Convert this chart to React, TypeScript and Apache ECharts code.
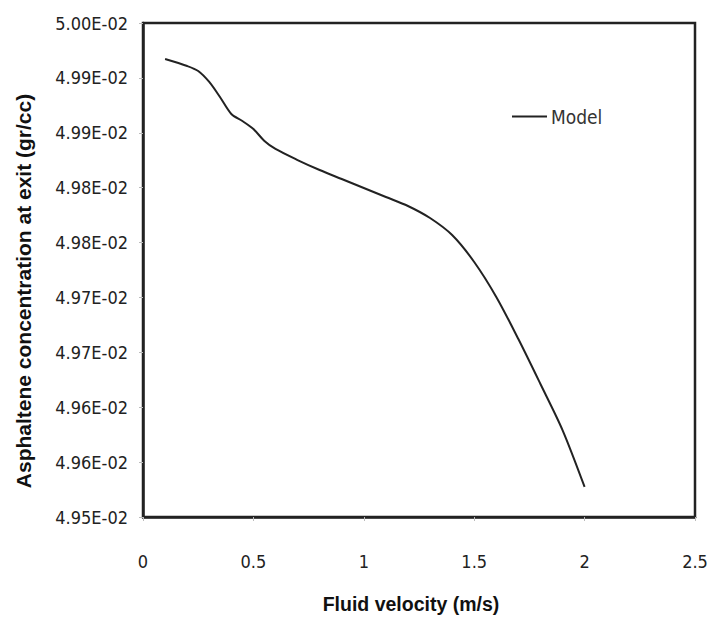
import React, { useEffect, useRef } from "react";
import * as echarts from "echarts";

const velocity = [0.1, 0.2, 0.25, 0.3, 0.35, 0.4, 0.45, 0.5, 0.55, 0.6, 0.7, 0.8, 0.9, 1.0, 1.1, 1.2, 1.3, 1.4, 1.5, 1.6, 1.7, 1.8, 1.9, 2.0];
const concentration = [
  0.0499636, 0.0499565, 0.0499514, 0.0499403, 0.0499246, 0.0499079, 0.0499008, 0.0498927,
  0.0498806, 0.0498725, 0.0498613, 0.0498512, 0.0498421, 0.049833, 0.0498239, 0.0498148,
  0.0498026, 0.0497854, 0.0497581, 0.0497227, 0.0496801, 0.0496346, 0.049588, 0.0495304,
];
const yMin = 0.0495;
const yMax = 0.05;
const ySteps = 9;
const xTicks = [0, 0.5, 1, 1.5, 2, 2.5];
const seriesName = "Model";
const xTitle = "Fluid velocity (m/s)";
const yTitle = "Asphaltene concentration at exit (gr/cc)";

const fmtSci = (v: number) => {
  const [m, e] = (v + 1e-12).toExponential(2).split("e");
  const n = parseInt(e, 10);
  const sign = n < 0 ? "-" : "+";
  const abs = Math.abs(n);
  return `${m}E${sign}${abs < 10 ? "0" + abs : abs}`;
};

const narrow = "'DejaVu Sans Condensed', 'Liberation Sans Narrow', 'Arial Narrow', sans-serif";
const bold = "'Liberation Sans', Arial, sans-serif";

export default function App() {
  const ref = useRef<HTMLDivElement>(null);
  useEffect(() => {
    if (!ref.current) return;
    const chart = echarts.init(ref.current, undefined, { renderer: "svg" });
    chart.setOption({
      animation: false,
      backgroundColor: "#ffffff",
      grid: {
        left: 143,
        right: 17,
        top: 23,
        bottom: 102,
        show: true,
        borderColor: "#222",
        borderWidth: 2.5,
      },
      legend: {
        data: [seriesName],
        left: 512,
        top: 107,
        padding: 0,
        icon: "rect",
        itemWidth: 35,
        itemHeight: 2,
        itemGap: 3,
        textStyle: { fontFamily: narrow, fontSize: 19, color: "#333", padding: [0, 0, 0, -1] },
      },
      graphic: [
        {
          type: "text",
          x: 411,
          y: 604,
          style: {
            text: xTitle,
            font: `bold 19.5px ${bold}`,
            fill: "#111",
            textAlign: "center",
            textVerticalAlign: "middle",
          },
        },
        {
          type: "text",
          x: 23,
          y: 291,
          rotation: Math.PI / 2,
          style: {
            text: yTitle,
            font: `bold 21px ${bold}`,
            fill: "#111",
            textAlign: "center",
            textVerticalAlign: "middle",
          },
        },
      ],
      xAxis: {
        type: "value",
        min: 0,
        max: 2.5,
        interval: 0.5,
        axisLine: { show: true, lineStyle: { color: "#222", width: 2.5 } },
        axisTick: { show: true, length: 4, lineStyle: { color: "#bbb" } },
        axisLabel: {
          margin: 35,
          fontFamily: narrow,
          fontSize: 18,
          color: "#222",
          formatter: (v: number) => (xTicks.includes(v) ? String(v) : ""),
        },
        splitLine: { show: false },
      },
      yAxis: {
        type: "value",
        min: yMin,
        max: yMax,
        interval: (yMax - yMin) / ySteps,
        axisLine: { show: true, lineStyle: { color: "#222", width: 2.5 } },
        axisTick: { show: true, length: 4, lineStyle: { color: "#bbb" } },
        axisLabel: {
          margin: 15,
          fontFamily: narrow,
          fontSize: 18,
          color: "#222",
          formatter: (v: number) => fmtSci(v),
        },
        splitLine: { show: false },
      },
      series: [
        {
          name: seriesName,
          type: "line",
          data: velocity.map((x, i) => [x, concentration[i]]),
          symbol: "none",
          smooth: 0.3,
          lineStyle: { color: "#222", width: 2 },
          itemStyle: { color: "#222" },
        },
      ],
    });
    return () => chart.dispose();
  }, []);
  return <div ref={ref} style={{ position: "absolute", left: 0, top: 0, width: 712, height: 619 }} />;
}
